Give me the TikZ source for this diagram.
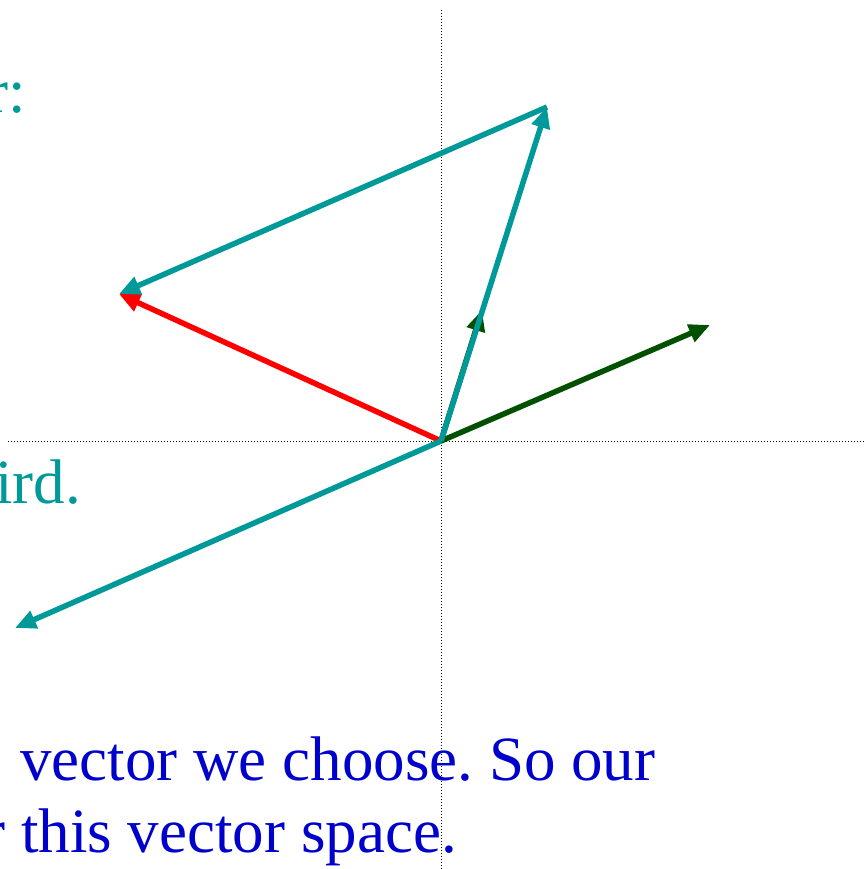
\documentclass[tikz,border=0pt]{standalone}
\usepackage{fontspec}
\setmainfont{Liberation Serif}
\usetikzlibrary{arrows.meta}
\definecolor{tealc}{RGB}{0,153,153}
\definecolor{redc}{RGB}{255,0,0}
\definecolor{greenc}{RGB}{0,80,0}
\definecolor{bluec}{RGB}{0,0,204}
\tikzset{
  axis/.style={black,line width=1pt,dash pattern=on 1pt off 2pt},
  vec/.style={line width=5.5pt,-{Triangle[length=21pt,width=18pt]}},
  txt/.style={inner sep=0pt,font=\fontsize{63}{72}\selectfont}
}
\frenchspacing
\begin{document}
\begin{tikzpicture}[x=1pt,y=-1pt]
\useasboundingbox (0,0) rectangle (864,869);
\clip (0,0) rectangle (864,869);
% axes
\coordinate (top) at (441,10);
\coordinate (bot) at (441,869);
\coordinate (lft) at (8,441);
\coordinate (rgt) at (864,441);
\draw[axis] (top) -- (bot);
\draw[axis] (lft) -- (rgt);
% points
\coordinate (O) at (441,441);
\coordinate (A) at (547,107);
\coordinate (B) at (119,294);
\coordinate (C) at (15,628);
\coordinate (D) at (710,325);
\coordinate (E) at (482,310);
% vectors
\draw[vec,greenc] (O) -- (E);
\draw[vec,greenc] (O) -- (D);
\draw[vec,redc] (O) -- (B);
\draw[vec,tealc] (O) -- (A);
\draw[vec,tealc] (A) -- (B);
\draw[vec,tealc] (O) -- (C);
% texts
\node[txt,tealc,anchor=base east] (t1) at (26,113) {r:};
\node[txt,tealc,anchor=base east] (t2) at (81,503) {ird.};
\node[txt,bluec,anchor=base west] (t3) at (20,780) {vector we choose. So our};
\node[txt,bluec,anchor=base east] (t4) at (457,852) {r this vector space.};
\end{tikzpicture}
\end{document}
